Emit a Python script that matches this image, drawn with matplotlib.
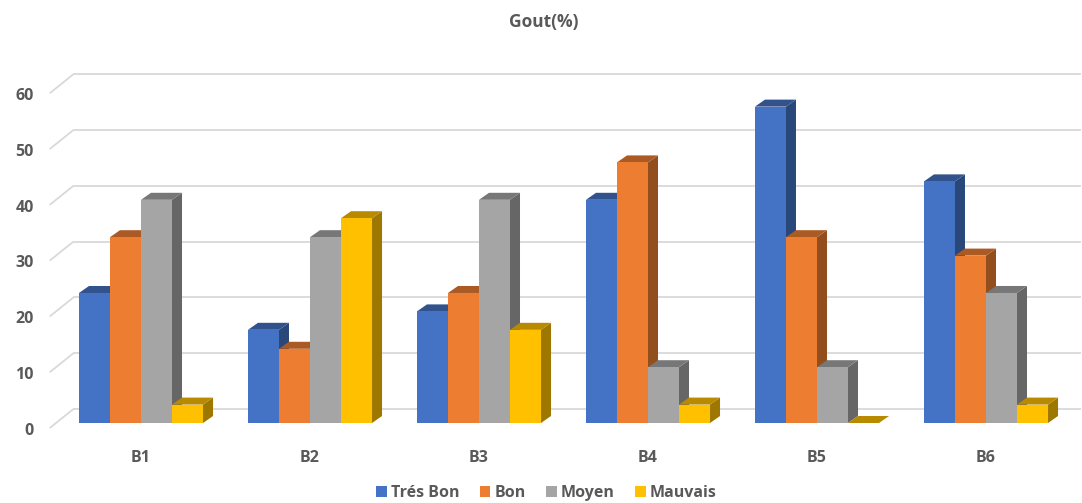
import numpy as np
import matplotlib
matplotlib.use("Agg")
import matplotlib.pyplot as plt
from matplotlib.patches import Polygon, Patch
from matplotlib import colors as mcolors

# données du graphique
groupes = ["B1", "B2", "B3", "B4", "B5", "B6"]
series = ["Trés Bon", "Bon", "Moyen", "Mauvais"]
tres_bon = [23.3, 16.7, 20.0, 40.0, 56.7, 43.3]
bon = [33.3, 13.3, 23.3, 46.7, 33.3, 30.0]
moyen = [40.0, 33.3, 40.0, 10.0, 10.0, 23.3]
mauvais = [3.3, 36.7, 16.7, 3.3, 0.0, 3.3]
yticks = [0, 10, 20, 30, 40, 50, 60]

couleurs = ["#4472C4", "#ED7D31", "#A5A5A5", "#FFC000"]
gris_txt = "#595959"
valeurs = [tres_bon, bon, moyen, mauvais]

W, H = 1082, 503
fig = plt.figure(figsize=(W / 100, H / 100), dpi=100)

# axe en unités "groupe" / "valeur" ; 169 px par groupe, 5.58 px par unité
px_x, px_y = 169.0, 5.58
x0_px, y0_px = 141.0, H - 423.0
xlim = (-0.8, 5.6)
ylim = (-12, 66)
left = (x0_px + xlim[0] * px_x) / W
bottom = (y0_px + ylim[0] * px_y) / H
ax = fig.add_axes([left, bottom, (xlim[1] - xlim[0]) * px_x / W,
                   (ylim[1] - ylim[0]) * px_y / H])
ax.set_xlim(*xlim)
ax.set_ylim(*ylim)
ax.axis("off")

# profondeur des barres et du fond
bar_w = 0.1835
dx, dy = 10 / px_x, 7 / px_y
mur_x0, mur_x1 = -0.54, -0.40
mur_front, mur_back = -0.9, 2.5

# quadrillage en perspective
for v in yticks:
    ax.plot([mur_x0, mur_x1], [v + mur_front, v + mur_back],
            color="#D9D9D9", lw=1.3, zorder=1, solid_capstyle="butt")
    ax.plot([mur_x1, 5.56], [v + mur_back, v + mur_back],
            color="#D9D9D9", lw=1.3, zorder=1, solid_capstyle="butt")
    ax.text(-0.635, v - 1.4, str(v), ha="right", va="center",
            fontsize=11.5, fontweight="bold", color=gris_txt,
            family="Open Sans")


def fonce(c, k):
    r, g, b = mcolors.to_rgb(c)
    return (r * k, g * k, b * k)


z = 2
for g in range(len(groupes)):
    for s in range(len(series)):
        v = valeurs[s][g]
        x = g - 2 * bar_w + s * bar_w
        c = couleurs[s]
        face = Polygon([(x, 0), (x + bar_w, 0), (x + bar_w, v), (x, v)],
                       closed=True, fc=c, ec="none", zorder=z)
        cote = Polygon([(x + bar_w, 0), (x + bar_w + dx, dy),
                        (x + bar_w + dx, v + dy), (x + bar_w, v)],
                       closed=True, fc=fonce(c, 0.62), ec="none", zorder=z)
        dessus = Polygon([(x, v), (x + bar_w, v), (x + bar_w + dx, v + dy),
                          (x + dx, v + dy)],
                         closed=True, fc=fonce(c, 0.72), ec="none", zorder=z)
        ax.add_patch(cote)
        ax.add_patch(dessus)
        ax.add_patch(face)
        z += 1
    ax.text(g, -6.3, groupes[g], ha="center", va="center", fontsize=11.5,
            fontweight="bold", color=gris_txt, family="Open Sans")

fig.text(0.503, 1 - 22 / H, "Gout(%)", ha="center", va="center",
         fontsize=12.5, fontweight="bold", color=gris_txt, family="Open Sans")

handles = [Patch(facecolor=c, edgecolor="none", label=l)
           for c, l in zip(couleurs, series)]
leg = fig.legend(handles=handles, loc="center", ncol=4,
                 bbox_to_anchor=(0.505, 10 / H), frameon=False,
                 handlelength=0.65, handleheight=0.65, handletextpad=0.25,
                 columnspacing=1.3,
                 prop={"family": "Open Sans", "weight": "bold", "size": 11.5})
for t in leg.get_texts():
    t.set_color(gris_txt)

fig.savefig("out.png", dpi=100)
